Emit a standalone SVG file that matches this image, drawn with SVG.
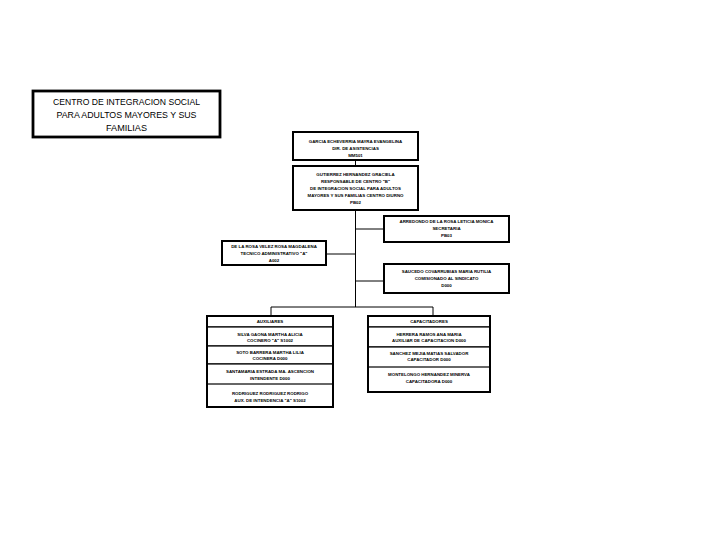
<svg xmlns="http://www.w3.org/2000/svg" width="720" height="540" viewBox="0 0 720 540">
<style>
.bg{fill:#ffffff}
.box{fill:#ffffff;stroke:#000000;stroke-width:2}
.tbox{fill:#ffffff;stroke:#000000;stroke-width:2.8}
.cell{fill:#ffffff;stroke:#000000;stroke-width:1.2}
.t{font-family:"Liberation Sans",Arial,sans-serif;font-size:4.4px;font-weight:bold;fill:#000000;text-anchor:middle}
.title{font-family:"Liberation Sans",Arial,sans-serif;font-size:9px;fill:#000000;text-anchor:middle}
.conn{fill:none;stroke:#000000;stroke-width:1}
</style>
<rect class="bg" x="0" y="0" width="720" height="540"/>

<g id="connectors">
<path class="conn" d="M355.5,160 V166"/>
<path class="conn" d="M355.5,210 V307"/>
<path class="conn" d="M355.5,229 H384"/>
<path class="conn" d="M355.5,281 H384"/>
<path class="conn" d="M326,254 H355.5"/>
<path class="conn" d="M271,307 H433"/>
<path class="conn" d="M271,307 V316"/>
<path class="conn" d="M433,307 V316"/>
</g>

<g id="title">
<rect class="tbox" x="33" y="91" width="187" height="46"/>
<text class="title" x="126.5" y="105.3" textLength="147" lengthAdjust="spacingAndGlyphs">CENTRO DE INTEGRACION SOCIAL</text>
<text class="title" x="126.5" y="117.5" textLength="140" lengthAdjust="spacingAndGlyphs">PARA ADULTOS MAYORES Y SUS</text>
<text class="title" x="126.5" y="130.5" textLength="41" lengthAdjust="spacingAndGlyphs">FAMILIAS</text>
</g>

<g id="node-direccion">
<rect class="box" x="293" y="132" width="125" height="28"/>
<text class="t" x="355.5" y="142.6">GARCIA ECHEVERRIA MAYRA EVANGELINA</text>
<text class="t" x="355.5" y="149.6">DIR. DE ASISTENCIAS</text>
<text class="t" x="355.5" y="156.6">MM501</text>
</g>

<g id="node-responsable">
<rect class="box" x="293" y="166" width="125" height="44"/>
<text class="t" x="355.5" y="175.6">GUTIERREZ HERNANDEZ GRACIELA</text>
<text class="t" x="355.5" y="182.6">RESPONSABLE DE CENTRO "B"</text>
<text class="t" x="355.5" y="189.6">DE INTEGRACION SOCIAL PARA ADULTOS</text>
<text class="t" x="355.5" y="196.6">MAYORES Y SUS FAMILIAS CENTRO DIURNO</text>
<text class="t" x="355.5" y="203.6">PB02</text>
</g>

<g id="node-secretaria">
<rect class="box" x="384" y="216" width="125" height="26"/>
<text class="t" x="446.5" y="222.6">ARREDONDO DE LA ROSA LETICIA MONICA</text>
<text class="t" x="446.5" y="229.6">SECRETARIA</text>
<text class="t" x="446.5" y="236.6">PB03</text>
</g>

<g id="node-tecnico">
<rect class="box" x="222" y="241" width="104" height="24"/>
<text class="t" x="274" y="247.6">DE LA ROSA VELEZ ROSA MAGDALENA</text>
<text class="t" x="274" y="254.6">TECNICO ADMINISTRATIVO "A"</text>
<text class="t" x="274" y="261.6">A002</text>
</g>

<g id="node-comisionado">
<rect class="box" x="384" y="264" width="125" height="29"/>
<text class="t" x="446.5" y="272.6">SAUCEDO COVARRUBIAS MARIA RUTILIA</text>
<text class="t" x="446.5" y="279.6">COMISIONADO AL SINDICATO</text>
<text class="t" x="446.5" y="286.6">D000</text>
</g>

<g id="node-auxiliares">
<rect class="box" x="207" y="316" width="126" height="91"/>
<rect class="cell" x="207" y="316" width="126" height="11"/>
<rect class="cell" x="207" y="327" width="126" height="19"/>
<rect class="cell" x="207" y="346" width="126" height="18"/>
<rect class="cell" x="207" y="364" width="126" height="20"/>
<rect class="box" x="207" y="316" width="126" height="91" style="fill:none"/>
<text class="t" x="270" y="322.8">AUXILIARES</text>
<text class="t" x="270" y="335.6">SILVA GAONA MARTHA ALICIA</text>
<text class="t" x="270" y="341.6">COCINERO "A" S1002</text>
<text class="t" x="270" y="353.6">SOTO BARRERA MARTHA LILIA</text>
<text class="t" x="270" y="359.6">COCINERA D000</text>
<text class="t" x="270" y="372.6">SANTAMARIA ESTRADA MA. ASCENCION</text>
<text class="t" x="270" y="379.6">INTENDENTE D000</text>
<text class="t" x="270" y="394.6">RODRIGUEZ RODRIGUEZ RODRIGO</text>
<text class="t" x="270" y="401.6">AUX. DE INTENDENCIA "A" S1002</text>
</g>

<g id="node-capacitadores">
<rect class="box" x="368" y="316" width="122" height="76"/>
<rect class="cell" x="368" y="316" width="122" height="11"/>
<rect class="cell" x="368" y="327" width="122" height="20"/>
<rect class="cell" x="368" y="347" width="122" height="20"/>
<rect class="box" x="368" y="316" width="122" height="76" style="fill:none"/>
<text class="t" x="429" y="322.8">CAPACITADORES</text>
<text class="t" x="429" y="335.6">HERRERA RAMOS ANA MARIA</text>
<text class="t" x="429" y="341.6">AUXILIAR DE CAPACITACION D000</text>
<text class="t" x="429" y="354.6">SANCHEZ MEJIA MATIAS SALVADOR</text>
<text class="t" x="429" y="360.6">CAPACITADOR D000</text>
<text class="t" x="429" y="375.6">MONTELONGO HERNANDEZ MINERVA</text>
<text class="t" x="429" y="382.6">CAPACITADORA D000</text>
</g>
</svg>
